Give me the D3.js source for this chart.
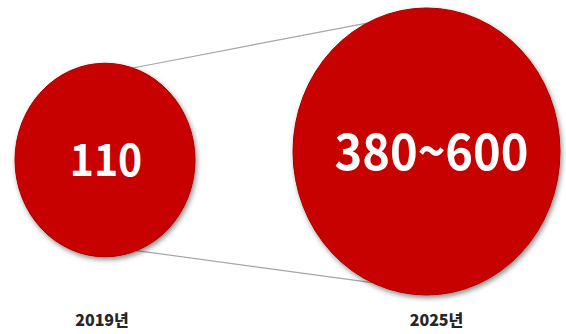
<!DOCTYPE html>
<html>
<head>
<meta charset="utf-8">
<script src="https://cdn.jsdelivr.net/npm/d3@7"></script>
<style>
  html, body { margin: 0; padding: 0; background: #fff; }
  svg { display: block; }
</style>
</head>
<body>
<div id="chart"></div>
<script>
// Market size comparison: 2019 vs 2025 outlook
const years = ["2019년", "2025년"];
const values = [110, 380];
const valueLabels = ["110", "380~600"];

const width = 566, height = 334;
const stretch = 1.075;           // vertical aspect of the bubbles

const svg = d3.select("#chart").append("svg")
  .attr("width", width).attr("height", height);

const defs = svg.append("defs");
const shadow = defs.append("filter").attr("id", "shadow")
  .attr("x", "-20%").attr("y", "-20%").attr("width", "140%").attr("height", "140%");
shadow.append("feDropShadow")
  .attr("dx", 1.5).attr("dy", 2.5).attr("stdDeviation", 2.5)
  .attr("flood-color", "#000").attr("flood-opacity", 0.45);

const x = d3.scalePoint().domain(years).range([105, 426.5]);
const r = d3.scaleSqrt().domain([110, 380]).range([90, 133.5]);
const cy = d3.scaleLinear().domain([110, 380]).range([160, 151.5]);
const fontSize = d3.scaleLinear().domain([110, 380]).range([41, 47]);

const bubbles = years.map((y, i) => ({
  year: y, value: values[i], label: valueLabels[i],
  cx: x(y), cy: cy(values[i]), rx: r(values[i]), ry: r(values[i]) * stretch
}));

// connector lines between the two bubbles (drawn underneath)
const onEdge = (b, deg) => {
  const a = deg * Math.PI / 180;
  return [b.cx + b.rx * Math.cos(a), b.cy + b.ry * Math.sin(a)];
};
const [s, l] = bubbles;
const connectors = [
  [onEdge(s, -72), onEdge(l, -116.5)],
  [onEdge(s, 69.5), onEdge(l, 114)]
];
svg.append("g").selectAll("line").data(connectors).join("line")
  .attr("x1", d => d[0][0]).attr("y1", d => d[0][1])
  .attr("x2", d => d[1][0]).attr("y2", d => d[1][1])
  .attr("stroke", "#a6a6a6").attr("stroke-width", 1.2);

// bubbles
svg.append("g").selectAll("ellipse").data(bubbles).join("ellipse")
  .attr("cx", d => d.cx).attr("cy", d => d.cy)
  .attr("rx", d => d.rx).attr("ry", d => d.ry)
  .attr("fill", "#c70000")
  .attr("stroke", "#a80000").attr("stroke-width", 1)
  .attr("filter", "url(#shadow)");

// value labels inside bubbles
svg.append("g").selectAll("text").data(bubbles).join("text")
  .attr("transform", d => `translate(${d.cx + (d.value > 200 ? 5 : 1)},${d.cy}) scale(1,${stretch})`)
  .attr("text-anchor", "middle")
  .attr("dy", "0.36em")
  .attr("font-family", "'Noto Sans CJK KR', 'Noto Sans', sans-serif")
  .attr("font-weight", "bold")
  .attr("font-size", d => fontSize(d.value))
  .attr("fill", "#fff")
  .text(d => d.label);

// year labels
svg.append("g").selectAll("text").data(bubbles).join("text")
  .attr("x", d => d.cx + (d.value > 200 ? 10 : -3))
  .attr("y", 320)
  .attr("text-anchor", "middle")
  .attr("dy", "0.35em")
  .attr("font-family", "'Noto Sans CJK KR', sans-serif")
  .attr("font-weight", 900)
  .attr("font-size", 16)
  .attr("fill", "#262626")
  .text(d => d.year);
</script>
</body>
</html>
